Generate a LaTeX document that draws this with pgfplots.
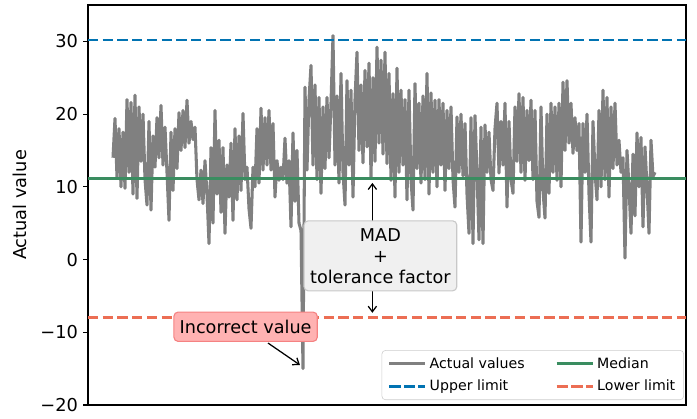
\documentclass[border=0pt]{standalone}
\usepackage{fontspec}
\setmainfont{DejaVu Sans}
\usepackage{pgfplots}
\pgfplotsset{compat=1.18}
\usetikzlibrary{arrows.meta}
\definecolor{upc}{RGB}{1,115,178}
\definecolor{medc}{RGB}{58,141,96}
\definecolor{lowc}{RGB}{236,110,84}
\definecolor{madfill}{RGB}{240,240,240}
\definecolor{madedge}{RGB}{200,200,200}
\definecolor{incfill}{RGB}{255,178,178}
\definecolor{incedge}{RGB}{245,130,130}
\definecolor{legedge}{RGB}{204,204,204}
\begin{document}
\begin{tikzpicture}
\useasboundingbox (-63.36pt,-9.36pt) rectangle (438.48pt,291.6pt);
\begin{axis}[
  at={(0,0)}, anchor=south west,
  scale only axis, width=430.56pt, height=288pt,
  xmin=-12.5, xmax=286.5, ymin=-20, ymax=35,
  xtick=\empty,
  ytick={-20,-10,0,10,20,30},
  yticklabels={−20,−10,0,10,20,30},
  ytick pos=left, tick align=outside,
  major tick length=3.5pt,
  every tick/.style={black, line width=0.8pt},
  axis line style={black, line width=0.8pt},
  /pgf/number format/assume math mode=true,
  yticklabel style={font=\fontsize{12.8}{15}\selectfont, inner sep=0pt, xshift=-3.5pt},
  ylabel={Actual value},
  every axis y label/.style={at={(axis description cs:0,0.5)}, xshift=-49pt, rotate=90, anchor=center, font=\fontsize{12.8}{15}\selectfont},
  legend columns=2,
  legend cell align=left,
  legend image code/.code={\draw[#1] (0pt,0pt) -- (21.6pt,0pt); \path (-1pt,0pt) -- (25.2pt,0pt);},
  legend style={at={(1,0)}, anchor=south east, xshift=-1.5pt, yshift=3.6pt,
    draw=legedge, rounded corners=2.5pt, fill=white, fill opacity=0.8, text opacity=1,
    font=\fontsize{10.2}{12}\selectfont, inner xsep=4pt, inner ysep=3pt, row sep=3pt,
    /tikz/every even column/.append style={column sep=20pt}},
]
\addplot[color=gray, line width=2.2pt, line join=round] table[x expr=\coordindex, y index=0, header=false, row sep=\\] {
14\\ 19.4\\ 11.3\\ 18.0\\ 10.0\\
17.5\\ 9.8\\ 22.0\\ 12.0\\ 21.6\\
9.0\\ 22.6\\ 8.4\\ 21.0\\ 13.5\\
20.0\\ 11.0\\ 7.5\\ 19.0\\ 6.8\\
17.0\\ 12.7\\ 19.5\\ 14.0\\ 21.2\\
13.0\\ 18.2\\ 12.0\\ 5.4\\ 17.5\\
9.5\\ 18.0\\ 12.5\\ 20.2\\ 15.0\\
20.5\\ 15.4\\ 21.9\\ 16.0\\ 19.0\\
16.5\\ 18.2\\ 11.0\\ 8.2\\ 12.3\\
7.7\\ 13.6\\ 9.0\\ 2.2\\ 15.4\\
5.0\\ 20.5\\ 9.0\\ 16.4\\ 6.5\\
15.4\\ 3.6\\ 13.0\\ 8.6\\ 16.0\\
5.4\\ 18.0\\ 8.2\\ 17.0\\ 9.5\\
20.1\\ 11.0\\ 12.7\\ 7.0\\ 4.3\\
12.7\\ 10.0\\ 18.0\\ 10.5\\ 20.8\\
12.3\\ 19.5\\ 13.0\\ 20.5\\ 12.3\\
18.7\\ 8.6\\ 13.6\\ 10.9\\ 12.7\\
11.0\\ 16.7\\ 10.5\\ 13.6\\ 4.5\\
17.4\\ 8.0\\ 15.0\\ 5.0\\ 4.0\\
-15.0\\ 23.7\\ 12.3\\ 22.0\\ 26.7\\
13.0\\ 24.0\\ 11.0\\ 22.3\\ 9.1\\
21.0\\ 12.5\\ 22.3\\ 14.0\\ 21.5\\
30.8\\ 13.0\\ 22.5\\ 10.5\\ 25.6\\
12.0\\ 7.5\\ 24.6\\ 13.0\\ 23.3\\
8.6\\ 22.0\\ 28.5\\ 15.0\\ 24.0\\
13.3\\ 26.0\\ 15.5\\ 27.0\\ 11.3\\
25.0\\ 13.5\\ 29.2\\ 16.0\\ 27.4\\
14.5\\ 28.5\\ 13.2\\ 25.6\\ 10.9\\
22.8\\ 8.6\\ 26.3\\ 12.0\\ 23.3\\
13.0\\ 22.0\\ 8.2\\ 23.3\\ 11.0\\
6.8\\ 24.2\\ 12.5\\ 21.5\\ 10.5\\
22.5\\ 11.0\\ 25.6\\ 9.0\\ 22.9\\
12.0\\ 21.9\\ 10.0\\ 22.0\\ 13.0\\
21.5\\ 9.5\\ 20.5\\ 12.5\\ 21.0\\
11.0\\ 7.2\\ 19.6\\ 12.0\\ 20.0\\
11.5\\ 18.7\\ 9.0\\ 3.6\\ 19.5\\
2.2\\ 19.8\\ 12.0\\ 2.7\\ 18.2\\
2.2\\ 18.5\\ 12.0\\ 17.5\\ 11.0\\
9.5\\ 18.0\\ 21.5\\ 11.9\\ 19.0\\
13.0\\ 21.5\\ 7.2\\ 19.0\\ 11.0\\
9.1\\ 21.0\\ 13.5\\ 22.8\\ 12.0\\
22.3\\ 10.9\\ 20.5\\ 13.6\\ 21.9\\
11.0\\ 20.5\\ 8.0\\ 5.8\\ 21.0\\
9.5\\ 5.7\\ 20.0\\ 9.1\\ 21.5\\
12.0\\ 21.0\\ 10.9\\ 21.5\\ 10.0\\
24.4\\ 15.0\\ 24.6\\ 16.0\\ 21.5\\
14.6\\ 19.5\\ 15.0\\ 18.7\\ 2.4\\
18.7\\ 12.0\\ 20.0\\ 9.0\\ 2.4\\
19.0\\ 12.0\\ 8.2\\ 20.5\\ 10.0\\
23.3\\ 11.0\\ 22.3\\ 8.6\\ 21.0\\
12.5\\ 21.5\\ 13.0\\ 16.4\\ 12.0\\
14.0\\ 0.2\\ 15.0\\ 10.0\\ 3.6\\
14.5\\ 6.0\\ 17.4\\ 10.0\\ 16.8\\
4.5\\ 15.5\\ 10.0\\ 3.6\\ 16.4\\
11.4\\ 12.0\\
};
\addlegendentry{Actual values}
\addplot[color=medc, line width=2pt] coordinates {(-12.5,11.1) (286.5,11.1)};
\addlegendentry{Median}
\addplot[color=upc, line width=2pt, dash pattern=on 7.4pt off 3.2pt] coordinates {(-12.5,30.2) (286.5,30.2)};
\addlegendentry{Upper limit}
\addplot[color=lowc, line width=2pt, dash pattern=on 7.4pt off 3.2pt] coordinates {(-12.5,-8.0) (286.5,-8.0)};
\addlegendentry{Lower limit}
\draw[-{Straight Barb[length=4pt,width=6pt]}, line width=0.9pt] (axis cs:129.7,5.27) -- (axis cs:129.7,10.54);
\draw[-{Straight Barb[length=4pt,width=6pt]}, line width=0.9pt] (axis cs:129.7,-4.3) -- (axis cs:129.7,-7.32);
\draw[-{Straight Barb[length=4pt,width=6pt]}, line width=0.9pt] (axis cs:77.5,-11.48) -- (axis cs:93.5,-14.5);
\node[draw=madedge, fill=madfill, rounded corners=3pt, line width=0.8pt, align=center,
  minimum width=110pt, minimum height=50.4pt, inner sep=1pt,
  font=\fontsize{12.7}{15.1}\selectfont] at (axis cs:133.7,0.51) {MAD\\+\\tolerance factor};
\node[draw=incedge, fill=incfill, rounded corners=3pt, line width=0.8pt,
  minimum width=103.2pt, minimum height=21.1pt, inner sep=1pt,
  font=\fontsize{12.7}{15.1}\selectfont] at (axis cs:66.3,-9.24) {Incorrect value};
\end{axis}
\end{tikzpicture}
\end{document}
